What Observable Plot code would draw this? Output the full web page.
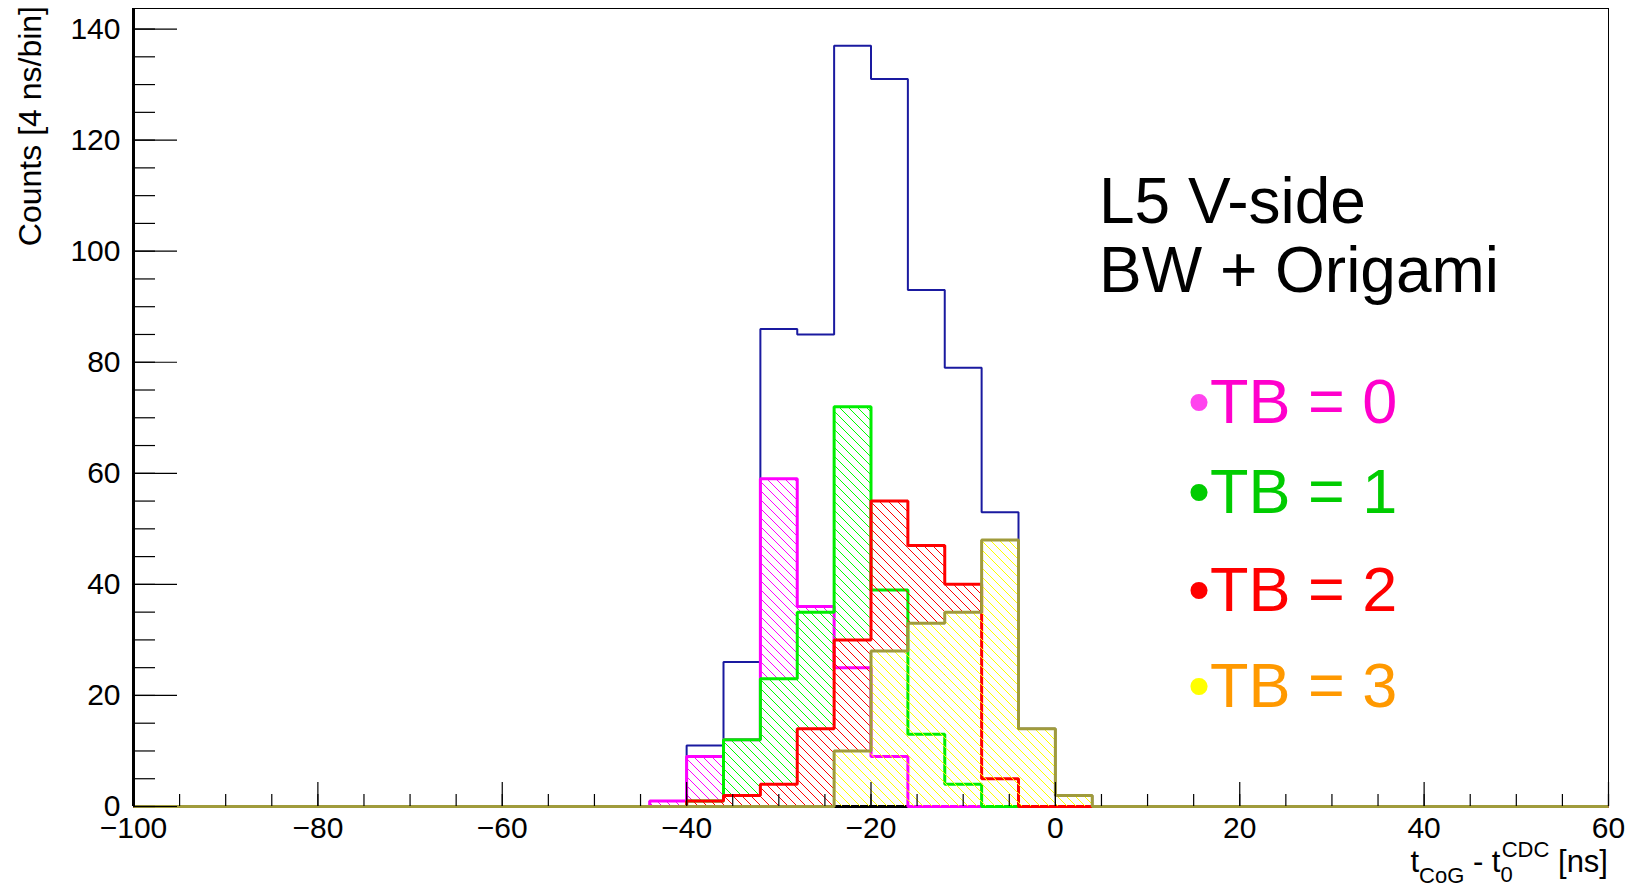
<!DOCTYPE html>
<html>
<head>
<meta charset="utf-8">
<script src="https://cdn.jsdelivr.net/npm/d3@7"></script>
<script src="https://cdn.jsdelivr.net/npm/@observablehq/plot@0.6"></script>
<style>
  html, body { margin: 0; padding: 0; background: #fff; }
  #chart svg { display: block; }
</style>
</head>
<body>
<div id="chart"></div>
<script>
// ---------- data ----------
const xDomain = [-100, 60];
const yDomain = [0, 143.7];
const binWidth = 4;
const binLeftEdges = [-44, -40, -36, -32, -28, -24, -20, -16, -12, -8, -4, 0];
const totalCounts = [1, 11, 26, 86, 85, 137, 131, 93, 79, 53, 14, 2];
const tb0Counts   = [1, 9, 12, 59, 36, 25, 9, 0, 0, 0, 0, 0];
const tb1Counts   = [0, 1, 12, 23, 35, 72, 39, 13, 4, 0, 0, 0];
const tb2Counts   = [0, 1, 2, 4, 14, 30, 55, 47, 40, 5, 0, 0];
const tb3Counts   = [0, 0, 0, 0, 0, 10, 28, 33, 35, 48, 14, 2];

const seriesLabels = ["TB = 0", "TB = 1", "TB = 2", "TB = 3"];
const seriesCounts = [tb0Counts, tb1Counts, tb2Counts, tb3Counts];
const lineColors   = ["#ff00ff", "#00ee00", "#ff0000", "#a09b3c"];
const hatchColors  = ["#ff00ff", "#00ff00", "#ff0000", "#ffff00"];
const textColors   = ["#ff00cc", "#00cc00", "#ff0000", "#ff9900"];
const bulletColors = ["#ff44ee", "#00cc00", "#ff0000", "#ffff00"];
const totalColor = "#1a1aa0";

const annotationLines = ["L5 V-side", "BW + Origami"];
const yTitle = "Counts [4 ns/bin]";
const yMajorTicks = d3.range(0, 141, 20);
const yMinorTicks = d3.range(0, 141, 5);
const xMajorTicks = d3.range(-100, 61, 20);
const xMinorTicks = d3.range(-100, 61, 5);

// ---------- helpers ----------
function stepPoints(vals) {
  const pts = [{x: xDomain[0], y: 0}];
  vals.forEach((v, i) => pts.push({x: binLeftEdges[i], y: v}));
  pts.push({x: binLeftEdges[binLeftEdges.length - 1] + binWidth, y: 0});
  pts.push({x: xDomain[1], y: 0});
  return pts;
}
function binRects(vals) {
  return vals.map((v, i) => ({x1: binLeftEdges[i], x2: binLeftEdges[i] + binWidth, y: v})).filter(d => d.y > 0);
}
const lineStyle = {curve: "step-after", strokeLinejoin: "miter", strokeLinecap: "butt"};

const FONT = "Liberation Sans, Arial, Helvetica, sans-serif";

const plot = Plot.plot({
  width: 1630,
  height: 887,
  marginLeft: 133,
  marginRight: 22,
  marginTop: 8,
  marginBottom: 81,
  style: {fontFamily: FONT, fontSize: "30px", background: "#fff", color: "#000"},
  x: {domain: xDomain},
  y: {domain: yDomain},
  marks: [
    Plot.frame({stroke: "#000", strokeWidth: 1}),
    Plot.ruleY([0], {stroke: "#000", strokeWidth: 3}),
    Plot.line(stepPoints(totalCounts), {x: "x", y: "y", stroke: totalColor, strokeWidth: 2, ...lineStyle}),
    ...seriesCounts.flatMap((vals, k) => [
      Plot.rectY(binRects(vals), {x1: "x1", x2: "x2", y: "y", fill: `url(#hatch${k})`}),
      Plot.line(stepPoints(vals), {x: "x", y: "y", stroke: lineColors[k], strokeWidth: 3, ...lineStyle})
    ]),
    Plot.axisY(yMinorTicks, {anchor: "left", tickSize: -22, tickFormat: () => "", label: null, strokeWidth: 1.2}),
    Plot.axisY(yMajorTicks, {anchor: "left", tickSize: -44, tickFormat: () => "", label: null, strokeWidth: 1.2}),
    Plot.axisY(yMajorTicks, {anchor: "left", tickSize: 0, tickPadding: 13, fontSize: 30, label: null}),
    Plot.axisX(xMinorTicks, {anchor: "bottom", tickSize: -12, tickFormat: () => "", label: null, strokeWidth: 1.2}),
    Plot.axisX(xMajorTicks, {anchor: "bottom", tickSize: -24, tickFormat: () => "", label: null, strokeWidth: 1.2}),
    Plot.axisX(xMajorTicks, {anchor: "bottom", tickSize: 0, tickPadding: 10, fontSize: 30, label: null}),
    Plot.ruleX([xDomain[0]], {stroke: "#000", strokeWidth: 3})
  ]
});

document.getElementById("chart").appendChild(plot);

const svg = d3.select(plot);
// hatch patterns (ROOT style 3005 "\\\")
const defs = svg.insert("defs", ":first-child");
hatchColors.forEach((c, k) => {
  const p = defs.append("pattern")
    .attr("id", `hatch${k}`)
    .attr("patternUnits", "userSpaceOnUse")
    .attr("width", 9).attr("height", 9);
  p.append("path")
    .attr("d", "M-1,-1L10,10M-1,8L1,10M8,-1L10,1")
    .attr("stroke", c).attr("stroke-width", 1).attr("fill", "none");
});

const txt = svg.append("g").attr("font-family", FONT).attr("fill", "#000").attr("text-anchor", "start");

// y axis title
txt.append("text")
  .attr("transform", "translate(41,6) rotate(-90)")
  .attr("text-anchor", "end")
  .attr("font-size", 32)
  .text(yTitle);

// x axis title: t_{CoG} - t_{0}^{CDC} [ns]
const xt = txt.append("text").attr("font-size", 31).attr("y", 872).attr("text-anchor", "end");
xt.append("tspan").text("t");
xt.append("tspan").attr("font-size", 22).attr("dy", 11).text("CoG");
xt.append("tspan").attr("dy", -11).text(" - t");
xt.append("tspan").attr("font-size", 22).attr("dy", 10).text("0");
xt.append("tspan").attr("font-size", 22).attr("dx", -11).attr("dy", -25).text("CDC");
xt.append("tspan").attr("dy", 15).text(" [ns]");
xt.attr("x", 1608);

// annotation
const annBaselines = [223, 292];
annotationLines.forEach((s, i) => {
  txt.append("text").attr("x", 1099).attr("y", annBaselines[i]).attr("font-size", 64).text(s);
});

// legend
const legBaselines = [423, 513, 611, 707];
seriesLabels.forEach((s, k) => {
  const t = txt.append("text").attr("x", 1188).attr("y", legBaselines[k]).attr("font-size", 63);
  t.append("tspan").attr("fill", bulletColors[k]).text("\u2022");
  t.append("tspan").attr("fill", textColors[k]).text(s);
});
</script>
</body>
</html>
